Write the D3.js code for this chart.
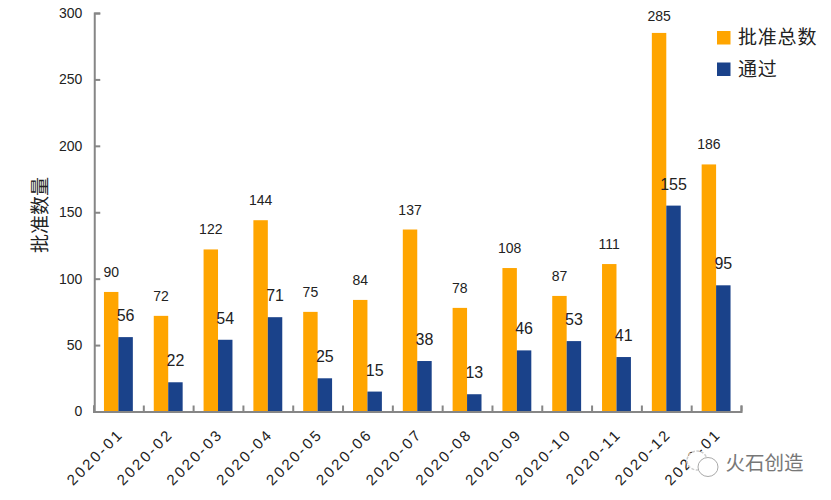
<!DOCTYPE html>
<html>
<head>
<meta charset="utf-8">
<script src="https://cdn.jsdelivr.net/npm/d3@7"></script>
<style>
    html, body { margin: 0; padding: 0; background: #fff; }
    svg { display: block; }
    text { font-family: "Liberation Sans", Arial, sans-serif; fill: #222; }
    .cjk { font-family: "Noto Sans CJK SC", sans-serif; }
</style>
</head>
<body>
<script>
    const months = ["2020-01", "2020-02", "2020-03", "2020-04", "2020-05", "2020-06", "2020-07",
        "2020-08", "2020-09", "2020-10", "2020-11", "2020-12", "2020-01 "];
    const approved = [90, 72, 122, 144, 75, 84, 137, 78, 108, 87, 111, 285, 186];
    const passed = [56, 22, 54, 71, 25, 15, 38, 13, 46, 53, 41, 155, 95];
    const seriesNames = ["批准总数", "通过"];
    const yTicks = [0, 50, 100, 150, 200, 250, 300];
    const colors = ["#ffa500", "#1a428a"];

    const width = 831;
    const height = 500;
    const plotLeft = 93.5;
    const plotRight = 741;
    const plotTop = 13;
    const plotBottom = 411.5;
    const axisColor = "#868686";

    const svg = d3.select("body").append("svg")
        .attr("width", width)
        .attr("height", height);

    const x = d3.scaleBand()
        .domain(months)
        .range([plotLeft, plotRight])
        .paddingInner(0.42)
        .paddingOuter(0.21);

    const xSeries = d3.scaleBand()
        .domain(seriesNames)
        .range([0, x.bandwidth()]);

    const xTicks = d3.scaleLinear()
        .domain([0, months.length])
        .range([plotLeft, plotRight]);

    const y = d3.scaleLinear()
        .domain([0, 300])
        .range([plotBottom, plotTop]);

    // bars first, axes sit on top of them
    [approved, passed].forEach((values, s) => {
        svg.append("g").selectAll("rect")
            .data(values)
            .enter()
            .append("rect")
            .attr("x", (d, i) => x(months[i]) + xSeries(seriesNames[s]))
            .attr("y", d => y(d))
            .attr("width", xSeries.bandwidth())
            .attr("height", d => plotBottom - y(d))
            .attr("fill", colors[s]);
    });

    // y axis, ticks point inwards
    const yAxis = svg.append("g")
        .attr("transform", `translate(${plotLeft + 0.75}, 0)`)
        .call(d3.axisLeft(y).tickValues(yTicks).tickSize(-6).tickPadding(12));
    yAxis.selectAll("text").style("font-size", "14px").style("fill", "#222");

    // x axis tick marks between the groups
    const xAxis = svg.append("g")
        .attr("transform", `translate(0, ${plotBottom})`)
        .call(d3.axisBottom(xTicks).ticks(months.length).tickSize(-6).tickFormat(""));

    [yAxis, xAxis].forEach(g => {
        g.select(".domain").attr("stroke", axisColor).attr("stroke-width", 2);
        g.selectAll(".tick line").attr("stroke", axisColor).attr("stroke-width", 2);
    });

    // month labels
    svg.append("g").selectAll("text")
        .data(months)
        .enter()
        .append("text")
        .attr("transform", d => `translate(${x(d) + x.bandwidth() / 2 + 6}, 435) rotate(-45)`)
        .attr("text-anchor", "end")
        .style("font-size", "15px")
        .style("letter-spacing", "2.5px")
        .text(d => d.trim());

    // value labels, the tallest one is kept inside the page top
    svg.append("g").selectAll("text")
        .data(approved)
        .enter()
        .append("text")
        .attr("x", (d, i) => x(months[i]) + xSeries.bandwidth() / 2)
        .attr("y", d => Math.max(y(d) - 15, 21))
        .attr("text-anchor", "middle")
        .style("font-size", "14px")
        .text(d => d);

    svg.append("g").selectAll("text")
        .data(passed)
        .enter()
        .append("text")
        .attr("x", (d, i) => x(months[i]) + xSeries(seriesNames[1]) + xSeries.bandwidth() / 2)
        .attr("y", d => y(d) - 16)
        .attr("text-anchor", "middle")
        .style("font-size", "16px")
        .text(d => d);

    // y title
    svg.append("text")
        .attr("class", "cjk")
        .attr("transform", "translate(47, 215) rotate(-90)")
        .attr("text-anchor", "middle")
        .style("font-size", "19px")
        .text("批准数量");

    // legend
    const legend = svg.append("g").selectAll("g")
        .data(seriesNames)
        .enter()
        .append("g")
        .attr("transform", (d, i) => `translate(717, ${31 + i * 31.5})`);

    legend.append("rect")
        .attr("width", 13.5)
        .attr("height", 13.5)
        .attr("fill", (d, i) => colors[i]);

    legend.append("text")
        .attr("class", "cjk")
        .attr("x", 21)
        .attr("y", 13)
        .style("font-size", "19px")
        .style("letter-spacing", "0.8px")
        .text(d => d);

    // watermark over the last month label
    const mark = svg.append("g").attr("transform", "translate(697, 462)");
    mark.append("ellipse")
        .attr("cx", 0).attr("cy", -1.5).attr("rx", 10).attr("ry", 9.5)
        .attr("fill", "#fff").attr("stroke", "#ccc").attr("stroke-width", 1.5)
        .attr("stroke-dasharray", "3 1.5");
    mark.append("ellipse")
        .attr("cx", 11).attr("cy", 5).attr("rx", 10).attr("ry", 9.5)
        .attr("fill", "#fff").attr("stroke", "#aaa").attr("stroke-width", 1);

    svg.append("text")
        .attr("class", "cjk")
        .attr("x", 725.5)
        .attr("y", 470)
        .style("font-size", "19.5px")
        .style("fill", "#777")
        .text("火石创造");
</script>
</body>
</html>
